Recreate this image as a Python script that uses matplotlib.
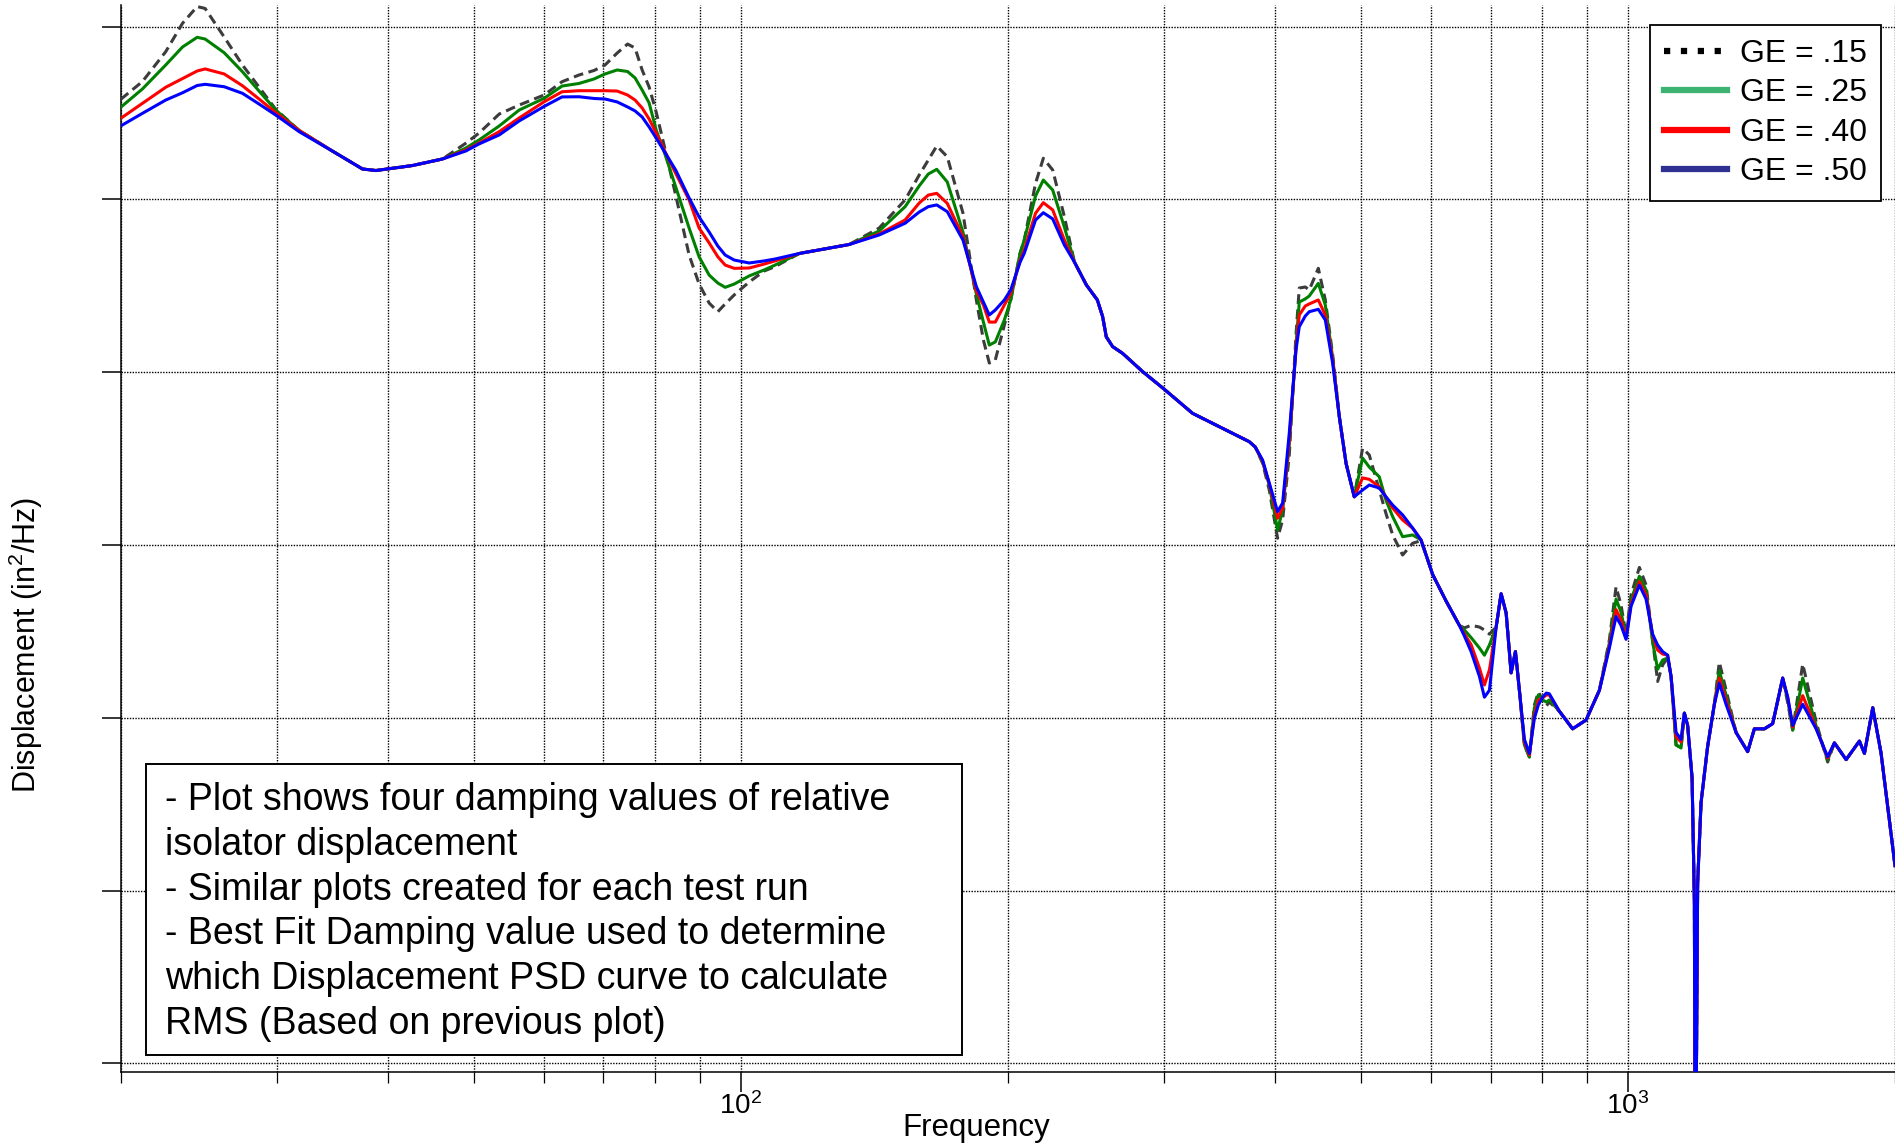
# -*- coding: utf-8 -*-
"""
Displacement PSD for four damping values (GE) of the relative isolator displacement.
"""
import numpy as np
import matplotlib
matplotlib.use("Agg")
import matplotlib.pyplot as plt
from matplotlib.lines import Line2D
from matplotlib.patches import Rectangle
from matplotlib.ticker import FixedLocator, LogLocator, NullFormatter, NullLocator

plt.rcParams['font.family'] = ['Liberation Sans', 'DejaVu Sans']
plt.rcParams['mathtext.fontset'] = 'custom'
plt.rcParams['mathtext.rm'] = 'Liberation Sans'
plt.rcParams['mathtext.it'] = 'Liberation Sans:italic'
plt.rcParams['mathtext.bf'] = 'Liberation Sans:bold'

# ---------------------------------------------------------------------------
# Data (frequency in Hz, PSD as log10 of in^2/Hz)
# ---------------------------------------------------------------------------
freq_hz = np.array([
    20.0, 21.16, 22.48, 23.48, 24.39, 24.90, 26.16, 27.43, 28.64, 29.91,
    31.78, 34.64, 37.46, 38.79, 42.65, 46.11, 48.98, 50.70, 53.42, 56.26,
    60.02, 62.88, 65.72, 68.33, 70.31, 72.55, 74.54, 76.00, 77.41, 78.83,
    80.28, 82.19, 84.45, 87.45, 89.75, 92.12, 94.21, 96.03, 98.30, 102.2,
    106.3, 109.3, 116.4, 132.5, 143.2, 153.2, 158.9, 162.7, 166.3, 170.9,
    178.0, 184.3, 187.7, 190.6, 193.6, 198.2, 201.5, 206.5, 208.7, 214.9,
    219.3, 224.7, 231.6, 237.7, 245.2, 252.3, 255.8, 258.2, 262.5, 269.4,
    283.8, 300.2, 323.0, 349.2, 374.2, 380.1, 387.4, 394.2, 402.8, 408.1,
    415.2, 422.5, 426.1, 432.8, 437.3, 447.7, 455.9, 464.7, 472.8, 481.1,
    491.5, 502.2, 511.0, 524.4, 533.6, 543.0, 557.2, 571.9, 584.5, 592.2,
    602.4, 623.7, 645.6, 654.1, 665.6, 680.1, 689.0, 698.0, 710.3, 719.5,
    729.0, 738.4, 746.8, 754.5, 764.3, 774.3, 784.4, 792.5, 801.4, 809.1,
    815.4, 836.9, 866.2, 897.0, 928.6, 952.9, 969.6, 982.2, 995.1, 1008.1,
    1030.1, 1048.1, 1066.1, 1080.1, 1094.2, 1108.6, 1118.4, 1133.0, 1147.8, 1157.7,
    1167.6, 1181.1, 1188.2, 1191.2, 1198.3, 1209.0, 1229.8, 1251.4, 1267.6, 1290.0,
    1324.0, 1364.4, 1388.4, 1425.0, 1456.0, 1494.3, 1514.0, 1533.6, 1574.0, 1629.7,
    1679.3, 1709.0, 1761.7, 1823.6, 1847.5, 1887.8, 1929.1, 2000.0,
])

log_psd_ge15 = np.array([
    -2.421, -2.318, -2.145, -1.981, -1.884, -1.895, -2.060, -2.222, -2.350, -2.479,
    -2.601, -2.720, -2.824, -2.833, -2.804, -2.766, -2.675, -2.616, -2.506, -2.454,
    -2.396, -2.319, -2.280, -2.254, -2.222, -2.153, -2.101, -2.124, -2.251, -2.350,
    -2.494, -2.714, -2.975, -3.322, -3.490, -3.600, -3.650, -3.605, -3.553, -3.478,
    -3.414, -3.389, -3.313, -3.261, -3.166, -3.003, -2.859, -2.772, -2.691, -2.753,
    -3.079, -3.582, -3.814, -3.947, -3.929, -3.727, -3.582, -3.310, -3.235, -2.907,
    -2.762, -2.830, -3.100, -3.362, -3.495, -3.582, -3.679, -3.795, -3.852, -3.891,
    -3.997, -4.099, -4.238, -4.325, -4.402, -4.433, -4.526, -4.682, -4.961, -4.855,
    -4.479, -3.785, -3.513, -3.507, -3.524, -3.399, -3.582, -3.900, -4.258, -4.527,
    -4.721, -4.440, -4.479, -4.682, -4.817, -4.942, -5.058, -4.990, -4.975, -5.058,
    -5.171, -5.324, -5.465, -5.480, -5.465, -5.475, -5.492, -5.516, -5.475, -5.282,
    -5.394, -5.740, -5.617, -5.841, -6.157, -6.227, -5.926, -5.851, -5.897, -5.932,
    -5.909, -5.962, -6.064, -6.013, -5.841, -5.550, -5.242, -5.347, -5.521, -5.289,
    -5.130, -5.231, -5.550, -5.790, -5.694, -5.654, -5.760, -6.157, -6.175, -5.973,
    -6.044, -6.348, -7.059, -9.000, -6.957, -6.490, -6.166, -5.922, -5.678, -5.839,
    -6.085, -6.196, -6.064, -6.064, -6.034, -5.770, -5.914, -6.071, -5.689, -6.024,
    -6.256, -6.145, -6.242, -6.135, -6.206, -5.942, -6.206, -6.856,
])

log_psd_ge25 = np.array([
    -2.467, -2.361, -2.222, -2.118, -2.062, -2.072, -2.151, -2.261, -2.373, -2.483,
    -2.601, -2.720, -2.824, -2.833, -2.804, -2.766, -2.703, -2.656, -2.575, -2.483,
    -2.415, -2.344, -2.329, -2.303, -2.274, -2.251, -2.260, -2.297, -2.367, -2.442,
    -2.598, -2.743, -2.927, -3.166, -3.333, -3.438, -3.484, -3.509, -3.490, -3.443,
    -3.408, -3.380, -3.313, -3.261, -3.183, -3.042, -2.922, -2.853, -2.826, -2.899,
    -3.189, -3.547, -3.710, -3.843, -3.825, -3.698, -3.582, -3.310, -3.235, -2.980,
    -2.888, -2.946, -3.160, -3.362, -3.495, -3.582, -3.679, -3.795, -3.852, -3.891,
    -3.997, -4.099, -4.238, -4.325, -4.402, -4.433, -4.520, -4.653, -4.913, -4.797,
    -4.421, -3.843, -3.594, -3.576, -3.559, -3.486, -3.611, -3.918, -4.258, -4.527,
    -4.721, -4.497, -4.549, -4.605, -4.740, -4.836, -4.952, -4.942, -4.971, -5.058,
    -5.171, -5.324, -5.465, -5.492, -5.536, -5.596, -5.638, -5.579, -5.475, -5.282,
    -5.394, -5.740, -5.617, -5.841, -6.157, -6.227, -5.943, -5.868, -5.897, -5.909,
    -5.897, -5.962, -6.064, -6.013, -5.841, -5.567, -5.313, -5.388, -5.532, -5.318,
    -5.181, -5.260, -5.561, -5.719, -5.666, -5.654, -5.760, -6.157, -6.175, -5.973,
    -6.044, -6.348, -7.059, -9.000, -6.957, -6.490, -6.166, -5.922, -5.729, -5.868,
    -6.085, -6.196, -6.064, -6.064, -6.034, -5.770, -5.897, -6.071, -5.770, -6.047,
    -6.244, -6.145, -6.242, -6.135, -6.206, -5.942, -6.206, -6.856,
])

log_psd_ge40 = np.array([
    -2.531, -2.444, -2.351, -2.301, -2.257, -2.245, -2.274, -2.342, -2.419, -2.498,
    -2.601, -2.720, -2.824, -2.833, -2.804, -2.766, -2.714, -2.674, -2.608, -2.529,
    -2.435, -2.377, -2.371, -2.371, -2.371, -2.373, -2.396, -2.425, -2.471, -2.535,
    -2.616, -2.726, -2.849, -3.003, -3.166, -3.252, -3.332, -3.380, -3.399, -3.397,
    -3.374, -3.356, -3.313, -3.261, -3.200, -3.119, -3.021, -2.975, -2.965, -3.023,
    -3.216, -3.530, -3.611, -3.710, -3.710, -3.611, -3.543, -3.351, -3.293, -3.080,
    -3.019, -3.061, -3.235, -3.362, -3.495, -3.582, -3.679, -3.795, -3.852, -3.891,
    -3.997, -4.099, -4.238, -4.325, -4.402, -4.433, -4.514, -4.647, -4.845, -4.786,
    -4.392, -3.860, -3.669, -3.617, -3.605, -3.582, -3.669, -3.929, -4.258, -4.527,
    -4.721, -4.612, -4.620, -4.663, -4.722, -4.786, -4.855, -4.903, -4.971, -5.058,
    -5.171, -5.324, -5.465, -5.515, -5.577, -5.712, -5.810, -5.723, -5.475, -5.282,
    -5.394, -5.740, -5.617, -5.841, -6.140, -6.215, -5.984, -5.897, -5.885, -5.868,
    -5.868, -5.962, -6.064, -6.013, -5.841, -5.585, -5.374, -5.434, -5.538, -5.341,
    -5.212, -5.289, -5.521, -5.608, -5.631, -5.638, -5.760, -6.111, -6.140, -5.973,
    -6.044, -6.348, -7.059, -9.000, -6.957, -6.490, -6.166, -5.922, -5.770, -5.897,
    -6.085, -6.196, -6.064, -6.064, -6.034, -5.770, -5.885, -6.053, -5.872, -6.059,
    -6.233, -6.145, -6.242, -6.135, -6.206, -5.942, -6.206, -6.856,
])

log_psd_ge50 = np.array([
    -2.575, -2.502, -2.425, -2.383, -2.341, -2.334, -2.348, -2.386, -2.448, -2.512,
    -2.608, -2.720, -2.824, -2.833, -2.804, -2.766, -2.720, -2.679, -2.627, -2.546,
    -2.462, -2.407, -2.406, -2.416, -2.419, -2.436, -2.465, -2.488, -2.523, -2.581,
    -2.645, -2.731, -2.830, -2.992, -3.102, -3.189, -3.270, -3.322, -3.351, -3.368,
    -3.356, -3.345, -3.313, -3.261, -3.206, -3.138, -3.073, -3.042, -3.032, -3.071,
    -3.235, -3.505, -3.594, -3.669, -3.640, -3.582, -3.524, -3.362, -3.312, -3.119,
    -3.077, -3.113, -3.264, -3.362, -3.495, -3.582, -3.679, -3.795, -3.852, -3.891,
    -3.997, -4.099, -4.238, -4.325, -4.402, -4.433, -4.508, -4.641, -4.807, -4.757,
    -4.352, -3.872, -3.737, -3.675, -3.650, -3.636, -3.698, -3.949, -4.258, -4.527,
    -4.721, -4.682, -4.653, -4.670, -4.721, -4.769, -4.826, -4.902, -4.971, -5.058,
    -5.171, -5.324, -5.465, -5.527, -5.617, -5.760, -5.881, -5.841, -5.475, -5.282,
    -5.394, -5.740, -5.617, -5.841, -6.125, -6.206, -6.003, -5.926, -5.881, -5.857,
    -5.861, -5.962, -6.064, -6.013, -5.841, -5.597, -5.414, -5.465, -5.546, -5.354,
    -5.232, -5.313, -5.516, -5.579, -5.617, -5.638, -5.760, -6.085, -6.125, -5.973,
    -6.044, -6.348, -7.059, -9.000, -6.957, -6.490, -6.166, -5.922, -5.800, -5.922,
    -6.085, -6.196, -6.064, -6.064, -6.034, -5.770, -5.881, -6.044, -5.922, -6.064,
    -6.226, -6.145, -6.242, -6.135, -6.206, -5.942, -6.206, -6.856,
])

legend_labels = ["GE = .15", "GE = .25", "GE = .40", "GE = .50"]

note_lines = [
    "- Plot shows four damping values of relative",
    "isolator displacement",
    "- Similar plots created for each test run",
    "- Best Fit Damping value used to determine",
    "which Displacement PSD curve to calculate",
    "RMS (Based on previous plot)",
]

# ---------------------------------------------------------------------------
# Figure
# ---------------------------------------------------------------------------
W, H = 1895, 1146
fig = plt.figure(figsize=(W / 100, H / 100), dpi=100)
ax = fig.add_axes([120.7 / W, 1 - 1072 / H, (W - 120.7) / W, (1072 - 5) / H])

ax.plot(freq_hz, 10.0 ** log_psd_ge15, color='#3c3c3c', lw=2.2,
        linestyle=(0, (3.2, 1.8)), zorder=3)
ax.plot(freq_hz, 10.0 ** log_psd_ge25, color='#008000', lw=2.2, zorder=4)
ax.plot(freq_hz, 10.0 ** log_psd_ge40, color='#ff0000', lw=2.2, zorder=5)
ax.plot(freq_hz, 10.0 ** log_psd_ge50, color='#0000ff', lw=2.2, zorder=6)

ax.set_xscale('log')
ax.set_yscale('log')
ax.set_xlim(20, 2000)
ax.set_ylim(10 ** -8.05, 10 ** -1.875)

# ticks
ax.xaxis.set_major_locator(FixedLocator([100, 1000]))
ax.set_xticklabels([r'$10^{2}$', r'$10^{3}$'])
ax.xaxis.set_minor_locator(LogLocator(base=10, subs=np.arange(2, 10), numticks=20))
ax.xaxis.set_minor_formatter(NullFormatter())
ax.yaxis.set_major_locator(FixedLocator(10.0 ** np.arange(-8, -1)))
ax.yaxis.set_minor_locator(NullLocator())
ax.yaxis.set_major_formatter(NullFormatter())

ax.tick_params(axis='x', which='major', direction='out', length=14.4, width=1.1,
               pad=0, labelsize=20)
ax.tick_params(axis='x', which='minor', direction='out', length=7.6, width=0.9)
ax.tick_params(axis='y', which='major', direction='out', length=13.7, width=1.1)

# grid
grid_style = dict(color='black', linestyle=(0, (1, 1)), linewidth=1.0)
ax.grid(True, which='major', axis='both', **grid_style)
ax.grid(True, which='minor', axis='x', **grid_style)
ax.set_axisbelow(True)

for side in ['top', 'right']:
    ax.spines[side].set_visible(False)
for side in ['left', 'bottom']:
    ax.spines[side].set_linewidth(1.1)

# labels
fig.text(976 / W, 1 - 1128 / H, "Frequency", ha='center', va='center', fontsize=22.5)
fig.text(26 / W, 1 - 645 / H, r"Displacement (in$^2$/Hz)", ha='center', va='center',
         rotation=90, fontsize=22)

# legend (handle styles differ from the plotted lines, as in the original)
handles = [
    Line2D([], [], color='black', lw=4.5, linestyle=(0, (1, 1.7))),
    Line2D([], [], color='#3cb371', lw=4.5),
    Line2D([], [], color='#ff0000', lw=4.5),
    Line2D([], [], color='#2e3192', lw=4.5),
]
leg = ax.legend(handles, legend_labels, loc='upper right',
                bbox_to_anchor=(0.9919, 0.981), borderaxespad=0,
                fontsize=23, frameon=True, fancybox=False, shadow=False,
                framealpha=1, edgecolor='black', handlelength=2.0,
                handletextpad=0.4, labelspacing=0.3, borderpad=0.42)
leg.get_frame().set_linewidth(1.3)
leg.set_zorder(10)

# note box
box = Rectangle((0.01426, 0.01593), 0.4599, 0.2727, transform=ax.transAxes,
                facecolor='white', edgecolor='black', lw=1.4, zorder=8)
ax.add_patch(box)
ax.text(0.02497, 0.1500, "\n".join(note_lines), transform=ax.transAxes,
        ha='left', va='center', fontsize=27, linespacing=1.31, zorder=9)

fig.savefig("out.png", dpi=100)
